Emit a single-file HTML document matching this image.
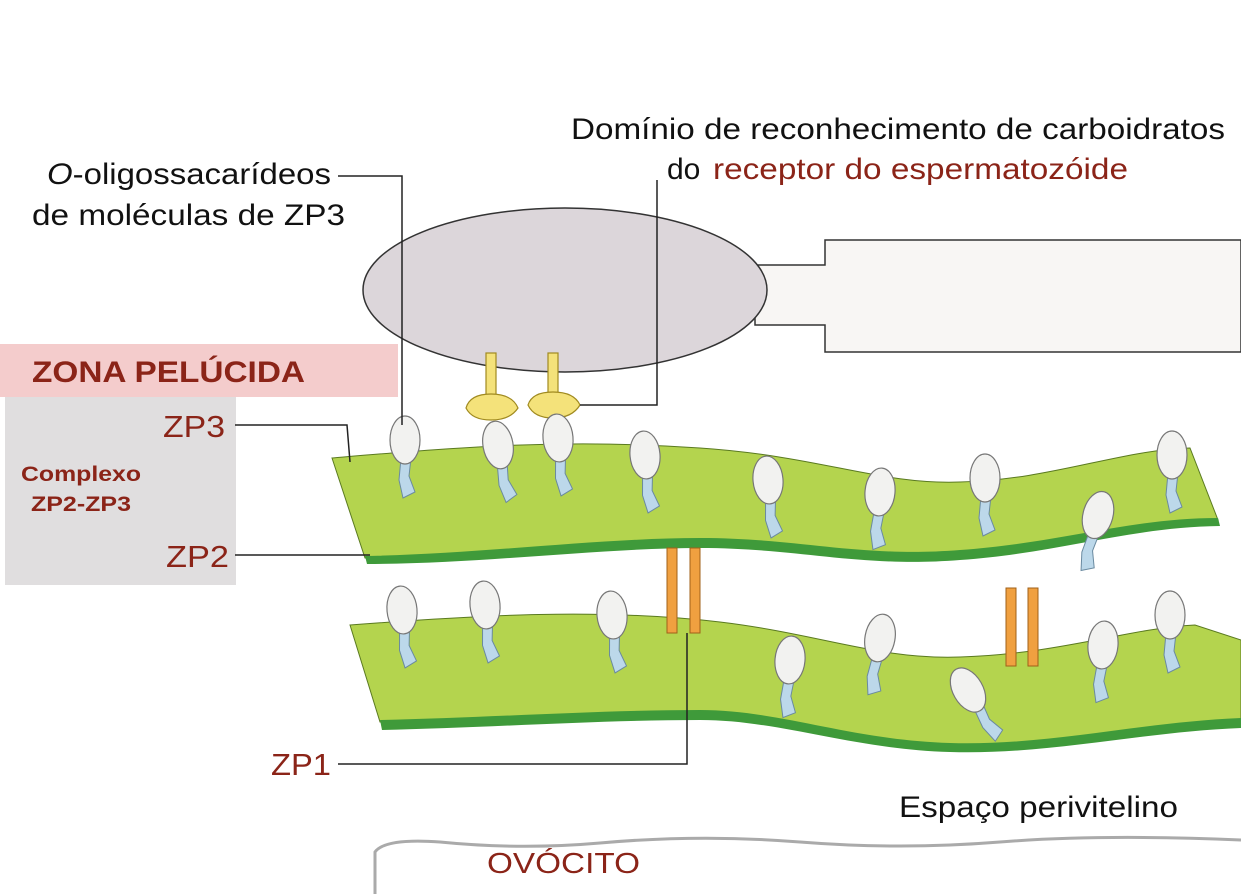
<!DOCTYPE html>
<html><head><meta charset="utf-8"><style>
html,body{margin:0;padding:0;background:#fff;}
svg{display:block;font-family:"Liberation Sans",sans-serif;}
</style></head><body>
<svg width="1241" height="894" viewBox="0 0 1241 894">
<rect x="0" y="0" width="1241" height="894" fill="#fff"/>
<!-- oocyte -->
<path d="M375,894 L375,852 Q385,838 440,842 Q520,850 600,843 Q700,834 800,842 Q900,850 1000,842 Q1100,834 1241,840" fill="none" stroke="#aaa" stroke-width="3"/>
<text x="487" y="873" font-size="29" fill="#8b2418" textLength="153" lengthAdjust="spacingAndGlyphs">OVÓCITO</text>
<text x="899" y="817" font-size="30" fill="#111" textLength="279" lengthAdjust="spacingAndGlyphs">Espaço perivitelino</text>
<!-- sperm tail -->
<path d="M755,265 L825,265 L825,240 L1241,240 L1241,352 L825,352 L825,325 L755,325 Z" fill="#f8f6f4" stroke="#333" stroke-width="1.5"/>
<ellipse cx="565" cy="290" rx="202" ry="82" fill="#dcd6da" stroke="#333" stroke-width="1.5"/>
<!-- receptors -->
<g fill="#f4e27a" stroke="#a08a20" stroke-width="1.2">
<rect x="486" y="353" width="10" height="45"/><path d="M466,408 Q470,394 491,394 Q512,394 518,408 Q510,420 491,420 Q472,420 466,408Z"/>
<rect x="548" y="353" width="10" height="45"/><path d="M528,405 Q532,392 553,392 Q574,392 580,405 Q572,418 553,418 Q534,418 528,405Z"/>
</g>
<!-- zona pelucida boxes -->
<rect x="0" y="344" width="398" height="53" fill="#f4cccc"/>
<text x="32" y="382" font-size="30" font-weight="bold" fill="#8b2418" textLength="273" lengthAdjust="spacingAndGlyphs">ZONA PELÚCIDA</text>
<rect x="5" y="397" width="231" height="188" fill="#e0dedf"/>
<text x="81" y="481" font-size="21" font-weight="bold" fill="#8b2418" text-anchor="middle" textLength="120" lengthAdjust="spacingAndGlyphs">Complexo</text>
<text x="81" y="511" font-size="21" font-weight="bold" fill="#8b2418" text-anchor="middle" textLength="100" lengthAdjust="spacingAndGlyphs">ZP2-ZP3</text>
<!-- bands -->
<path d="M332,458 C450,448 560,438 700,448 C820,456 880,485 960,482 C1050,480 1120,450 1190,448 L1218,520 C1130,520 1060,545 960,552 C860,560 800,540 700,540 C600,540 480,556 365,558 Z" fill="#b4d44e" stroke="#5a7a20" stroke-width="1"/>
<path d="M365,556 C480,554 600,538 700,538 C800,538 860,558 960,550 C1060,543 1130,518 1218,518 L1220,526 C1130,527 1060,553 960,560 C860,568 800,548 700,548 C600,548 480,564 367,564 Z" fill="#3f9a3a"/>
<path d="M350,625 C480,615 600,608 720,622 C820,634 880,660 960,657 C1060,654 1130,628 1195,625 L1241,640 L1241,720 C1140,725 1050,748 950,745 C850,742 780,712 700,712 C600,712 480,720 380,722 Z" fill="#b4d44e" stroke="#5a7a20" stroke-width="1"/>
<path d="M380,720 C480,718 600,710 700,710 C780,710 850,740 950,743 C1050,746 1140,722 1241,718 L1241,728 C1140,732 1050,755 950,752 C850,749 780,720 700,720 C600,720 480,728 382,730 Z" fill="#3f9a3a"/>
<!-- ZP1 crosslinks -->
<g fill="#f0a040" stroke="#a06018" stroke-width="1">
<rect x="667" y="548" width="10" height="85"/><rect x="690" y="548" width="10" height="85"/>
<rect x="1006" y="588" width="10" height="78"/><rect x="1028" y="588" width="10" height="78"/>
</g>
<g id="glyco"></g>
<!-- leader lines -->
<g stroke="#222" stroke-width="1.5" fill="none">
<polyline points="338,176 402,176 402,425"/>
<polyline points="657,180 657,405 580,405"/>
<polyline points="235,425 347,425 350,462"/>
<line x1="235" y1="555" x2="370" y2="555"/>
<polyline points="338,764 687,764 687,633"/>
</g>
<text x="47" y="184" font-size="30" fill="#111" textLength="284" lengthAdjust="spacingAndGlyphs"><tspan font-style="italic">O</tspan>-oligossacarídeos</text>
<text x="32" y="225" font-size="30" fill="#111" textLength="313" lengthAdjust="spacingAndGlyphs">de moléculas de ZP3</text>
<text x="571" y="139" font-size="30" fill="#111" textLength="654" lengthAdjust="spacingAndGlyphs">Domínio de reconhecimento de carboidratos</text>
<text x="667" y="179" font-size="30" fill="#111">do</text>
<text x="713" y="179" font-size="30" fill="#8b2418" textLength="415" lengthAdjust="spacingAndGlyphs">receptor do espermatozóide</text>
<text x="163" y="437" font-size="31" fill="#8b2418" textLength="62" lengthAdjust="spacingAndGlyphs">ZP3</text>
<text x="166" y="567" font-size="31" fill="#8b2418" textLength="63" lengthAdjust="spacingAndGlyphs">ZP2</text>
<text x="271" y="775" font-size="31" fill="#8b2418" textLength="60" lengthAdjust="spacingAndGlyphs">ZP1</text>
</svg>
<script>
const gx=[405,498,558,645,768,880,985,1172,1098,402,485,612,790,880,968,1103,1170];
const gy=[440,445,438,455,480,492,478,455,515,610,605,615,660,638,690,645,615];
const tilt=[0,-10,-5,-5,-5,5,0,0,15,-5,-5,-5,5,10,-30,5,0];
const g=document.getElementById('glyco');
const NS='http://www.w3.org/2000/svg';
for(let i=0;i<gx.length;i++){
 const grp=document.createElementNS(NS,'g');
 
 
 grp.setAttribute('transform','translate('+gx[i]+','+gy[i]+') rotate('+tilt[i]+')');
 const s=document.createElementNS(NS,'path');
 s.setAttribute('d','M-4,18 L6,18 L4,36 L10,52 L-2,58 L-6,40 Z');
 s.setAttribute('fill','#bcd8ea');s.setAttribute('stroke','#6a8aa0');s.setAttribute('stroke-width','1');
 const e=document.createElementNS(NS,'ellipse');
 e.setAttribute('cx','0');e.setAttribute('cy','0');e.setAttribute('rx','15');e.setAttribute('ry','24');
 e.setAttribute('fill','#f2f2f0');e.setAttribute('stroke','#777');e.setAttribute('stroke-width','1.2');
 grp.appendChild(s);grp.appendChild(e);g.appendChild(grp);
}
</script>
</body></html>
